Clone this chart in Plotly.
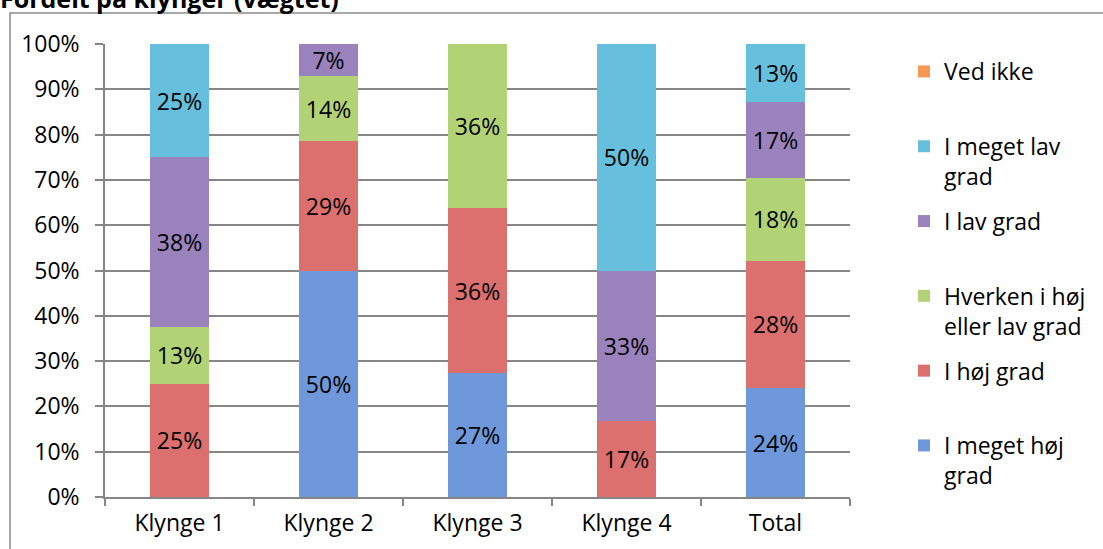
import plotly.graph_objects as go

categories = ["Klynge 1", "Klynge 2", "Klynge 3", "Klynge 4", "Total"]

# percentages (bottom to top of each stack)
i_meget_hoej = [None, 50.0, 27.3, None, 24.0]
i_hoej = [25.0, 28.6, 36.4, 16.7, 28.2]
hverken = [12.5, 14.3, 36.4, None, 18.2]
i_lav = [37.5, 7.1, None, 33.3, 16.7]
i_meget_lav = [25.0, None, None, 50.0, 12.9]
ved_ikke = [None, None, None, None, None]

series_names = [
    "I meget høj<br>grad",
    "I høj grad<br> ",
    "Hverken i høj<br>eller lav grad",
    "I lav grad<br> ",
    "I meget lav<br>grad",
    "Ved ikke<br> ",
]
series_values = [i_meget_hoej, i_hoej, hverken, i_lav, i_meget_lav, ved_ikke]
series_colors = ["#6E98D9", "#DC706E", "#B2D375", "#9A83BC", "#66C0DD", "#F59854"]

FONT = "Open Sans"
FS = 23
W, H = 1103, 549
L, R, T, B = 105, 850, 44, 497  # plot area in pixels


def px_x(p):
    return (p - L) / (R - L)


def px_y(p):
    return (B - p) / (B - T)


fig = go.Figure()
n = len(series_names)
for i, (name, vals, col) in enumerate(zip(series_names, series_values, series_colors)):
    fig.add_trace(go.Bar(
        x=categories, y=vals, name=name, legendgroup=name,
        legendrank=n - i,
        marker=dict(color=col, line=dict(width=0)),
        texttemplate="%{y:.0f}%", textposition="inside",
        insidetextanchor="middle", textangle=0, constraintext="none",
        textfont=dict(family=FONT, size=FS, color="black"),
        hoverinfo="x+y+name",
    ))

fig.update_layout(
    width=W, height=H,
    barmode="stack", bargap=0.6,
    paper_bgcolor="white", plot_bgcolor="white",
    margin=dict(l=L, r=W - R, t=T, b=H - B, pad=0, autoexpand=False),
    font=dict(family=FONT, size=FS, color="black"),
    uniformtext=dict(mode="show", minsize=FS),
    legend=dict(
        x=px_x(904), y=px_y(50), xanchor="left", yanchor="top",
        traceorder="grouped", tracegroupgap=12, valign="top",
        font=dict(family=FONT, size=FS, color="black"),
        bgcolor="rgba(0,0,0,0)",
    ),
    xaxis=dict(
        showline=True, linecolor="#868686", linewidth=1.5,
        ticks="outside", ticklen=7, tickcolor="#868686", tickwidth=1.5,
        tickson="boundaries", showgrid=False,
        tickfont=dict(family=FONT, size=FS, color="black"),
        ticklabelstandoff=5,
    ),
    yaxis=dict(
        range=[0, 100], dtick=10, ticksuffix="%",
        showline=True, linecolor="#868686", linewidth=1.5,
        ticks="outside", ticklen=8, tickcolor="#868686", tickwidth=1.5,
        showgrid=True, gridcolor="#868686", gridwidth=1.5,
        zeroline=False,
        tickfont=dict(family=FONT, size=FS, color="black"),
        ticklabelstandoff=11,
    ),
    shapes=[dict(
        type="rect", xref="paper", yref="paper",
        x0=px_x(10), x1=px_x(1200), y0=px_y(600), y1=px_y(13),
        line=dict(color="#8C8C8C", width=1.5), fillcolor="rgba(0,0,0,0)",
        layer="below",
    )],
    annotations=[dict(
        text="<b>Fordelt på klynger (vægtet)</b>",
        xref="paper", yref="paper", x=px_x(-2), y=px_y(17),
        xanchor="left", yanchor="bottom", showarrow=False,
        font=dict(family=FONT, size=25, color="black"),
    )],
)

fig.write_html(
    "out.html",
    config={"displayModeBar": False},
    post_script="document.body.style.margin='0';document.body.style.overflow='hidden';",
)
